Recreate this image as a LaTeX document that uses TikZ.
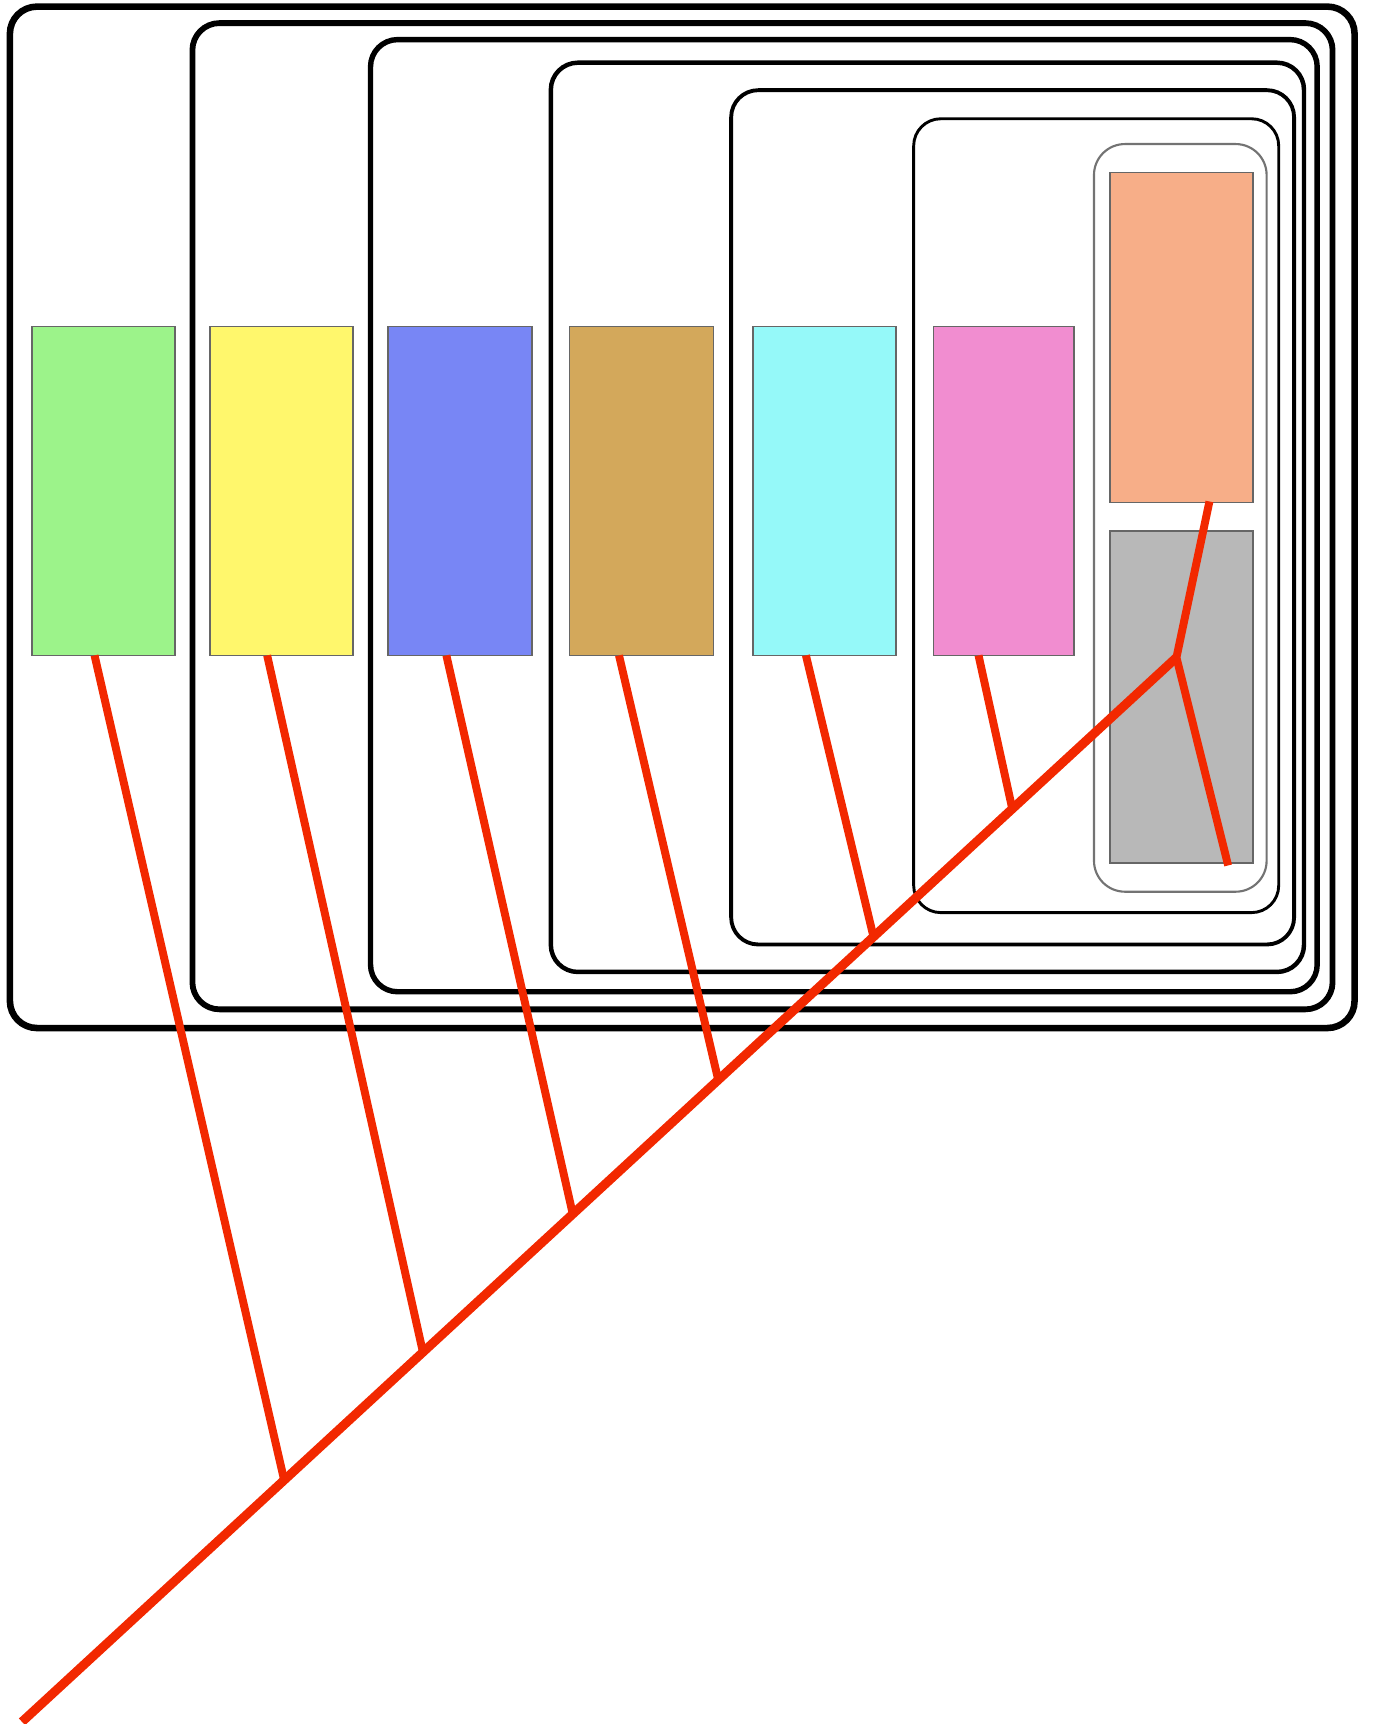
\documentclass[tikz,border=0pt]{standalone}
\usetikzlibrary{calc}
\definecolor{treered}{RGB}{242,40,0}
\definecolor{cgreen}{RGB}{156,243,138}
\definecolor{cyellow}{RGB}{255,247,108}
\definecolor{cblue}{RGB}{120,134,245}
\definecolor{ctan}{RGB}{211,168,91}
\definecolor{ccyan}{RGB}{149,249,249}
\definecolor{cpink}{RGB}{241,141,208}
\definecolor{csalmon}{RGB}{247,174,136}
\definecolor{cgrey}{RGB}{184,184,184}
\begin{document}
\begin{tikzpicture}[x=0.01cm, y=-0.01cm,
  frame/.style={draw=black, rounded corners=7pt},
  leaf/.style={draw=black!60, line width=0.45pt, inner sep=0pt, outer sep=0pt,
    minimum width=1.30cm, minimum height=2.99cm},
  branch/.style={draw=treered, line width=2.05pt},
  trunk/.style={draw=treered, line width=2.35pt}]
\useasboundingbox (0,0) rectangle (1252,1568);

% nested clade frames, outermost first
\draw[frame, line width=1.7pt] (9,6) rectangle (1232,935);
\draw[frame, line width=1.5pt] (175,21) rectangle (1212,918);
\draw[frame, line width=1.4pt] (337,36) rectangle (1198,902);
\draw[frame, line width=1.15pt] (501,57) rectangle (1186,884);
\draw[frame, line width=1.0pt] (665,82) rectangle (1177,859);
\draw[frame, line width=0.75pt] (831,108) rectangle (1163,830);
\draw[frame, draw=black!55, line width=0.55pt, rounded corners=8pt] (995,131) rectangle (1152,811);

% taxa
\node[leaf, fill=cgreen]  (green)  at (94,446.5) {};
\node[leaf, fill=cyellow] (yellow) at (256,446.5) {};
\node[leaf, fill=cblue, minimum width=1.31cm]  (blue)   at (418.5,446.5) {};
\node[leaf, fill=ctan, minimum width=1.31cm]   (tan)    at (583.5,446.5) {};
\node[leaf, fill=ccyan]   (cyan)   at (750,446.5) {};
\node[leaf, fill=cpink, minimum width=1.28cm]  (pink)   at (913,446.5) {};
\node[leaf, fill=csalmon, minimum height=3.00cm] (salmon) at (1074.5,307) {};
\node[leaf, fill=cgrey, minimum height=3.02cm]   (grey)   at (1074.5,634) {};

% tree: trunk and its nodes
\coordinate (root) at (20,1566);
\coordinate (tip) at (1070,598);
\coordinate (k1) at ($(root)!0.2271!(tip)$);
\coordinate (k2) at ($(root)!0.3473!(tip)$);
\coordinate (k3) at ($(root)!0.4771!(tip)$);
\coordinate (k4) at ($(root)!0.6031!(tip)$);
\coordinate (k5) at ($(root)!0.7376!(tip)$);
\coordinate (k6) at ($(root)!0.8578!(tip)$);

% branch ends at the taxa
\coordinate (eGreen)  at ($(green.south)+(-8,0)$);
\coordinate (eYellow) at ($(yellow.south)+(-13,0)$);
\coordinate (eBlue)   at ($(blue.south)+(-12.5,0)$);
\coordinate (eTan)    at ($(tan.south)+(-20.5,0)$);
\coordinate (eCyan)   at ($(cyan.south)+(-17,0)$);
\coordinate (ePink)   at ($(pink.south)+(-23,0)$);
\coordinate (eSalmon) at ($(salmon.south)+(25.5,-1)$);
\coordinate (eGrey)   at ($(grey.south)+(42.5,2)$);

\draw[trunk] (root) -- (tip);
\draw[branch] (eGreen) -- (k1);
\draw[branch] (eYellow) -- (k2);
\draw[branch] (eBlue) -- (k3);
\draw[branch] (eTan) -- (k4);
\draw[branch] (eCyan) -- (k5);
\draw[branch] (ePink) -- (k6);
\draw[branch] (eSalmon) -- (tip) -- (eGrey);
\end{tikzpicture}
\end{document}
